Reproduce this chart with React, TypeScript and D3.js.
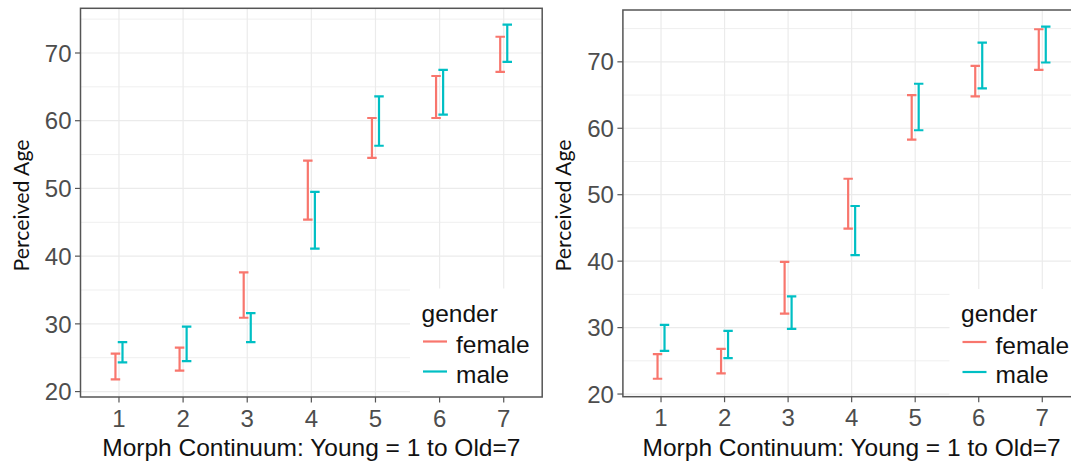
import React from "react";
import * as d3 from "d3";

// Morph steps along the young-to-old continuum
const morphSteps = [1, 2, 3, 4, 5, 6, 7];
const ageTicks = [20, 30, 40, 50, 60, 70];
const minorAgeTicks = [25, 35, 45, 55, 65, 75];
const genders = ["female", "male"];
const genderColors = ["#F8766D", "#00BFC4"];

// Study A: confidence interval bounds of perceived age
const studyAFemaleLower = [21.8, 23.1, 30.9, 45.4, 54.5, 60.4, 67.2];
const studyAFemaleUpper = [25.6, 26.5, 37.6, 54.1, 60.4, 66.6, 72.4];
const studyAMaleLower = [24.3, 24.5, 27.3, 41.1, 56.3, 60.9, 68.7];
const studyAMaleUpper = [27.3, 29.6, 31.6, 49.5, 63.6, 67.5, 74.2];

// Study B: confidence interval bounds of perceived age
const studyBFemaleLower = [22.3, 23.1, 32.1, 44.9, 58.3, 64.8, 68.8];
const studyBFemaleUpper = [26.0, 26.8, 39.9, 52.4, 65.0, 69.4, 74.9];
const studyBMaleLower = [26.5, 25.4, 29.8, 40.9, 59.7, 66.0, 69.9];
const studyBMaleUpper = [30.4, 29.5, 34.7, 48.3, 66.7, 72.9, 75.3];

const FONT = "'Liberation Sans', Arial, sans-serif";

type PanelProps = {
  left: number;
  right: number;
  top: number;
  bottom: number;
  yDomain: [number, number];
  lower: number[][];
  upper: number[][];
  legendX: number;
  legendY: number;
  yTitleX: number;
};

function Panel(p: PanelProps) {
  const x = d3.scaleLinear().domain([0.4, 7.6]).range([p.left, p.right]);
  const y = d3.scaleLinear().domain(p.yDomain).range([p.bottom, p.top]);
  const dodge = 0.055;
  const capHalf = 0.074;
  const clipId = `clip-${Math.round(p.left)}`;
  const legendRight = Math.min(p.right, 1071);

  return (
    <g>
      <defs>
        <clipPath id={clipId}>
          <rect x={p.left} y={p.top} width={p.right - p.left} height={p.bottom - p.top} />
        </clipPath>
      </defs>
      <rect x={p.left} y={p.top} width={p.right - p.left} height={p.bottom - p.top} fill="#fff" />
      <g clipPath={`url(#${clipId})`}>
        {minorAgeTicks.map((t) => (
          <line key={"mn" + t} x1={p.left} x2={p.right} y1={y(t)} y2={y(t)} stroke="#EFEFEF" strokeWidth={1} />
        ))}
        {ageTicks.map((t) => (
          <line key={"mj" + t} x1={p.left} x2={p.right} y1={y(t)} y2={y(t)} stroke="#EBEBEB" strokeWidth={1.2} />
        ))}
        {morphSteps.map((m) => (
          <line key={"v" + m} x1={x(m)} x2={x(m)} y1={p.top} y2={p.bottom} stroke="#EBEBEB" strokeWidth={1.2} />
        ))}
        {genders.map((g, gi) => (
          <g key={g} stroke={genderColors[gi]} strokeWidth={2.2} fill="none">
            {morphSteps.map((m, i) => {
              const cx = x(m + (gi === 0 ? -dodge : dodge));
              const x0 = x(m + (gi === 0 ? -dodge : dodge) - capHalf);
              const x1 = x(m + (gi === 0 ? -dodge : dodge) + capHalf);
              const lo = y(p.lower[gi][i]);
              const hi = y(p.upper[gi][i]);
              return (
                <g key={m}>
                  <line x1={cx} x2={cx} y1={lo} y2={hi} />
                  <line x1={x0} x2={x1} y1={lo} y2={lo} />
                  <line x1={x0} x2={x1} y1={hi} y2={hi} />
                </g>
              );
            })}
          </g>
        ))}
        {/* legend inside the panel */}
        <rect x={p.legendX} y={p.legendY} width={legendRight - p.legendX + 20} height={p.bottom - p.legendY} fill="#fff" />
      </g>
      <text x={p.legendX + 11.5} y={p.legendY + 33} fontFamily={FONT} fontSize={24.5} fill="#111">
        gender
      </text>
      {genders.map((g, gi) => (
        <g key={"lg" + g}>
          <line
            x1={p.legendX + 13}
            x2={p.legendX + 37}
            y1={p.legendY + 53 + gi * 30}
            y2={p.legendY + 53 + gi * 30}
            stroke={genderColors[gi]}
            strokeWidth={2.2}
          />
          <text x={p.legendX + 46} y={p.legendY + 64.5 + gi * 29.5} fontFamily={FONT} fontSize={24.5} fill="#111">
            {g}
          </text>
        </g>
      ))}
      <rect
        x={p.left}
        y={p.top}
        width={p.right - p.left}
        height={p.bottom - p.top}
        fill="none"
        stroke="#555"
        strokeWidth={1.5}
      />
      {ageTicks.map((t) => (
        <g key={"yt" + t}>
          <line x1={p.left - 5.5} x2={p.left} y1={y(t)} y2={y(t)} stroke="#555" strokeWidth={1.2} />
          <text
            x={p.left - 9}
            y={y(t)}
            dy="0.36em"
            textAnchor="end"
            fontFamily={FONT}
            fontSize={24}
            fill="#4D4D4D"
          >
            {t}
          </text>
        </g>
      ))}
      {morphSteps.map((m) => (
        <g key={"xt" + m}>
          <line x1={x(m)} x2={x(m)} y1={p.bottom} y2={p.bottom + 5.5} stroke="#555" strokeWidth={1.2} />
          <text x={x(m)} y={p.bottom + 29.5} textAnchor="middle" fontFamily={FONT} fontSize={24} fill="#4D4D4D">
            {m}
          </text>
        </g>
      ))}
      <text
        x={(x(0.4) + x(7.6)) / 2 - (p.right > 1071 ? 0 : 0)}
        y={455.5}
        textAnchor="middle"
        fontFamily={FONT}
        fontSize={24.5}
        fill="#111"
      >
        Morph Continuum: Young = 1 to Old=7
      </text>
      <text
        transform={`translate(${p.yTitleX},${205.5}) rotate(-90)`}
        textAnchor="middle"
        fontFamily="Lato, 'Open Sans', sans-serif"
        fontSize={21}
        textLength={132}
        lengthAdjust="spacingAndGlyphs"
        fill="#111"
      >
        Perceived Age
      </text>
    </g>
  );
}

export default function App() {
  return (
    <svg width={1071} height={463} style={{ position: "absolute", left: 0, top: 0, background: "#fff" }}>
      <rect width={1071} height={463} fill="#fff" />
      <Panel
        left={80.5}
        right={542.2}
        top={8.3}
        bottom={397}
        yDomain={[19.2, 76.6]}
        lower={[studyAFemaleLower, studyAMaleLower]}
        upper={[studyAFemaleUpper, studyAMaleUpper]}
        legendX={410}
        legendY={288.5}
        yTitleX={29}
      />
      <Panel
        left={622.9}
        right={1080.4}
        top={10}
        bottom={396.7}
        yDomain={[19.6, 77.8]}
        lower={[studyBFemaleLower, studyBMaleLower]}
        upper={[studyBFemaleUpper, studyBMaleUpper]}
        legendX={949.5}
        legendY={289}
        yTitleX={571}
      />
    </svg>
  );
}
